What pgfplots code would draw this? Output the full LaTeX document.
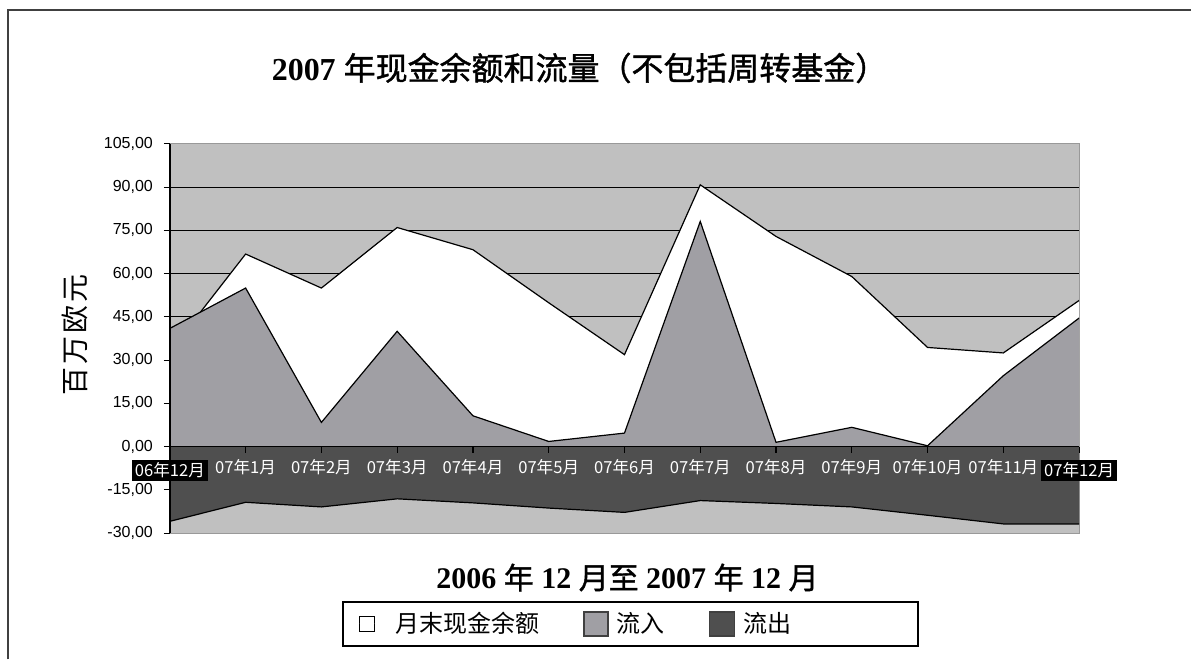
\documentclass[border=0pt]{standalone}
\usepackage{pgfplots}
\usepackage{pgfplotstable}
\pgfplotsset{compat=1.18}
\usepackage{fontspec}
\setmainfont{Liberation Serif}
\newfontfamily\cjk{Noto Sans CJK SC}
\newfontfamily\cjkb[FakeBold=1.2]{Noto Sans CJK SC}
\newfontfamily\arial{Liberation Sans}
\definecolor{bggray}{HTML}{C0C0C0}
\definecolor{ingray}{HTML}{A09FA4}
\definecolor{outgray}{HTML}{4F4F4F}
\setlength{\fboxsep}{1.5pt}
\pgfplotsset{layers/mylayers/.define layer set={axis background,axis grid,pre main,main,axis ticks,axis lines,axis tick labels,axis descriptions,axis foreground}{/pgfplots/layers/standard}}

\pgfplotstableread{
x bal inflow outflow
0 33 41 -25.9
1 66.8 55 -19.3
2 55 8.4 -20.9
3 76 40 -18.1
4 68.3 10.7 -19.5
5 49.9 1.8 -21.3
6 31.9 4.7 -22.8
7 90.8 78.1 -18.7
8 72.9 1.5 -19.7
9 59 6.7 -20.9
10 34.4 0.3 -23.8
11 32.5 24.6 -26.8
12 50.7 44.6 -26.8
}\data

\begin{document}
\begin{tikzpicture}
\path (0,0) rectangle (596pt,334.5pt);
\draw[line width=1pt, color=black!75] (4pt,4.5pt) -- (4pt,329.5pt) -- (596pt,329.5pt);

\node[font=\fontsize{16}{18}\selectfont\bfseries] at (290pt,300.5pt) {2007 {\cjkb\mdseries 年现金余额和流量（不包括周转基金）}};
\node[font=\fontsize{15}{17}\selectfont\bfseries] at (314pt,45.5pt) {2006 {\cjkb\mdseries 年} 12 {\cjkb\mdseries 月至} 2007 {\cjkb\mdseries 年} 12 {\cjkb\mdseries 月}};
\node[font=\cjk\fontsize{14}{16}\selectfont, rotate=90] at (37.5pt,167pt) {百\hspace{1.5pt}万\hspace{1.5pt}欧\hspace{1.5pt}元};

\begin{axis}[
  at={(85pt,67.7pt)}, anchor=south west,
  scale only axis, width=455pt, height=194.8pt,
  xmin=0, xmax=12, ymin=-30, ymax=105,
  set layers=mylayers,
  axis x line*=middle, axis y line*=left,
  hide obscured x ticks=false, hide obscured y ticks=false,
  axis line style={-, black, line width=0.8pt},
  axis background/.style={fill=bggray, draw=gray!80},
  xtick={0,...,12},
  xticklabels={{\colorbox{black}{06年12月}},07年1月,07年2月,07年3月,07年4月,07年5月,07年6月,07年7月,07年8月,07年9月,07年10月,07年11月,{\colorbox{black}{07年12月}}},
  xticklabel style={font=\cjk\fontsize{8.3}{9}\selectfont, text=white},
  ytick={-30,-15,...,105},
  yticklabel style={font=\arial\fontsize{8}{9}\selectfont, xshift=-2pt,
    /pgf/number format/.cd, fixed, fixed zerofill, precision=2, use comma, assume math mode=true},
  extra y ticks={15,30,45,60,75,90},
  extra y tick labels={},
  extra y tick style={ymajorgrids=true},
  grid style={black, line width=0.6pt},
  tick style={black, line width=0.6pt},
  major tick length=3pt,
  tick align=outside,
  legend style={at={(0.5066,-0.2333)}, anchor=center, draw=black, line width=0.9pt,
    legend columns=3, font=\cjk\fontsize{12}{14}\selectfont,
    /tikz/every odd column/.append style={column sep=2pt},
    /tikz/every even column/.append style={column sep=20pt},
    inner xsep=8pt, inner ysep=3pt},
]
\addplot[fill=white, draw=none, legend image code/.code={\draw[fill=white,line width=0.6pt] (0pt,-3.75pt) rectangle (7.5pt,3.75pt); \path (0pt,0pt) -- (14pt,0pt);}] table[x=x,y=bal]{\data} \closedcycle;
\addlegendentry{月末现金余额}
\addplot[black, line width=0.6pt, forget plot] table[x=x,y=bal]{\data};
\addplot[fill=ingray, draw=none, legend image code/.code={\draw[fill=ingray,draw=black!75,line width=0.8pt] (0pt,-6pt) rectangle (12pt,6pt);}] table[x=x,y=inflow]{\data} \closedcycle;
\addlegendentry{流入}
\addplot[black, line width=0.6pt, forget plot] table[x=x,y=inflow]{\data};
\addplot[fill=outgray, draw=none, legend image code/.code={\draw[fill=outgray,draw=black!75,line width=0.8pt] (0pt,-6pt) rectangle (12.5pt,6pt);}] table[x=x,y=outflow]{\data} \closedcycle;
\addlegendentry{\makebox[77.5pt][l]{流出}}
\addplot[black, line width=0.6pt, forget plot] table[x=x,y=outflow]{\data};
\end{axis}
\end{tikzpicture}
\end{document}
